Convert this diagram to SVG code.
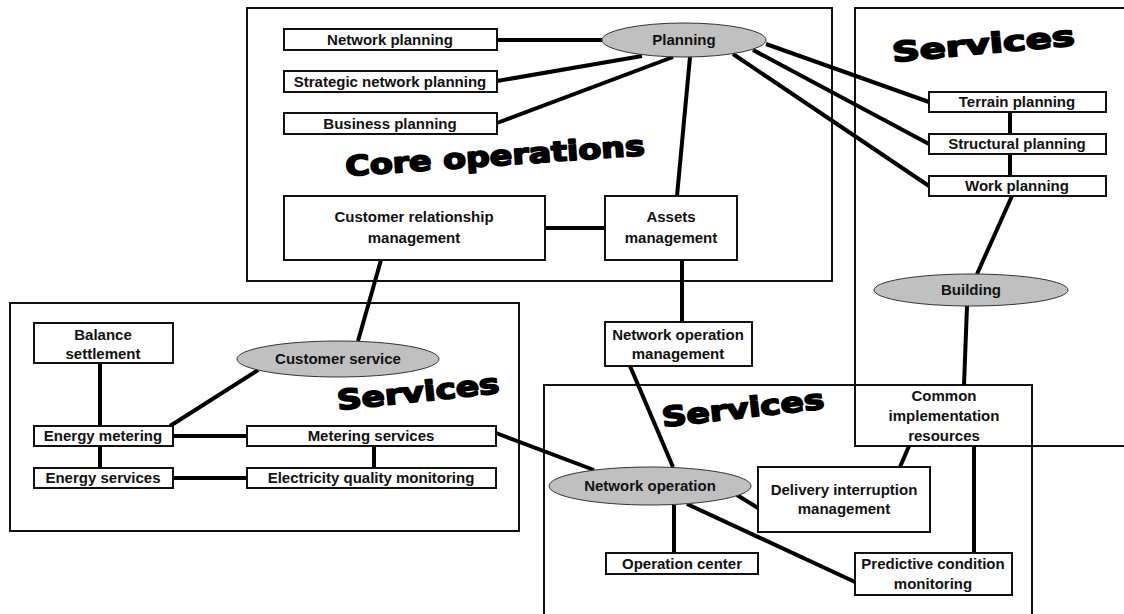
<svg xmlns="http://www.w3.org/2000/svg" width="1124" height="614" viewBox="0 0 1124 614">
  <style>
    .region { fill: none; stroke: #111; stroke-width: 2; }
    .box { fill: #fff; stroke: #111; stroke-width: 2; }
    .oval { fill: #c0c0c0; stroke: #333; stroke-width: 1; }
    .lbl { font-family: "Liberation Sans", Arial, sans-serif; font-weight: bold; font-size: 15px; text-anchor: middle; fill: #111; }
    .title { font-family: "DejaVu Sans", "Liberation Sans", sans-serif; font-weight: bold; font-size: 25px; fill: #000; stroke: #000; stroke-width: 1.6; stroke-linejoin: round; }
    .link { stroke: #000; stroke-width: 4; fill: none; }
  </style>

  <rect width="1124" height="614" fill="#fff"/>

  <!-- functional areas -->
  <g id="areas">
    <rect class="region" x="247" y="8" width="585" height="273"/>
    <rect class="region" x="855" y="8" width="290" height="438"/>
    <rect class="region" x="10" y="303" width="509" height="228"/>
    <rect class="region" x="544" y="385" width="488" height="250"/>
  </g>

  <!-- area titles -->
  <g id="titles">
    <text class="title" transform="translate(346,176) rotate(-4) scale(1,1.1)" textLength="300" lengthAdjust="spacingAndGlyphs">Core operations</text>
    <text class="title" transform="translate(893,62) rotate(-5.3) scale(1,1.1)" textLength="183" lengthAdjust="spacingAndGlyphs">Services</text>
    <text class="title" transform="translate(338,410) rotate(-6) scale(1,1.1)" textLength="163" lengthAdjust="spacingAndGlyphs">Services</text>
    <text class="title" transform="translate(663,427) rotate(-6.5) scale(1,1.1)" textLength="163" lengthAdjust="spacingAndGlyphs">Services</text>
  </g>

  <!-- connectors -->
  <g id="connectors">
    <line class="link" x1="497" y1="40" x2="602" y2="40"/>
    <line class="link" x1="497" y1="81" x2="642" y2="56"/>
    <line class="link" x1="497" y1="123" x2="673" y2="57"/>
    <line class="link" x1="690" y1="57" x2="677" y2="196"/>
    <line class="link" x1="766" y1="44" x2="929" y2="102"/>
    <line class="link" x1="753" y1="50" x2="929" y2="144"/>
    <line class="link" x1="733" y1="54" x2="929" y2="186"/>
    <line class="link" x1="1010" y1="112" x2="1010" y2="134"/>
    <line class="link" x1="1010" y1="154" x2="1010" y2="176"/>
    <line class="link" x1="1012" y1="196" x2="977" y2="274"/>
    <line class="link" x1="967" y1="306" x2="964" y2="385"/>
    <line class="link" x1="909" y1="446" x2="900" y2="467"/>
    <line class="link" x1="974" y1="446" x2="974" y2="553"/>
    <line class="link" x1="545" y1="228" x2="605" y2="228"/>
    <line class="link" x1="682" y1="260" x2="682" y2="322"/>
    <line class="link" x1="381" y1="260" x2="358" y2="341"/>
    <line class="link" x1="630" y1="366" x2="673" y2="467"/>
    <line class="link" x1="100" y1="363" x2="100" y2="426"/>
    <line class="link" x1="100" y1="446" x2="100" y2="468"/>
    <line class="link" x1="173" y1="436" x2="247" y2="436"/>
    <line class="link" x1="173" y1="478" x2="247" y2="478"/>
    <line class="link" x1="374" y1="446" x2="374" y2="468"/>
    <line class="link" x1="170" y1="426" x2="258" y2="370"/>
    <line class="link" x1="496" y1="433" x2="594" y2="470"/>
    <line class="link" x1="674" y1="505" x2="674" y2="553"/>
    <line class="link" x1="737" y1="495" x2="758" y2="508"/>
    <line class="link" x1="687" y1="504" x2="855" y2="582"/>
  </g>

  <!-- core operations -->
  <g id="network-planning">
    <rect class="box" x="284" y="29" width="213" height="21"/>
    <text class="lbl" x="390" y="45">Network planning</text>
  </g>
  <g id="strategic-network-planning">
    <rect class="box" x="284" y="71" width="213" height="21"/>
    <text class="lbl" x="390" y="87">Strategic network planning</text>
  </g>
  <g id="business-planning">
    <rect class="box" x="284" y="113" width="213" height="21"/>
    <text class="lbl" x="390" y="129">Business planning</text>
  </g>
  <g id="planning">
    <ellipse class="oval" cx="684" cy="40" rx="82" ry="17"/>
    <text class="lbl" x="684" y="45">Planning</text>
  </g>
  <g id="customer-relationship-management">
    <rect class="box" x="284" y="196" width="261" height="64"/>
    <text class="lbl" x="414" y="222">Customer relationship</text>
    <text class="lbl" x="414" y="243">management</text>
  </g>
  <g id="assets-management">
    <rect class="box" x="605" y="196" width="132" height="64"/>
    <text class="lbl" x="671" y="222">Assets</text>
    <text class="lbl" x="671" y="243">management</text>
  </g>
  <g id="network-operation-management">
    <rect class="box" x="605" y="322" width="147" height="44"/>
    <text class="lbl" x="678" y="340">Network operation</text>
    <text class="lbl" x="678" y="359">management</text>
  </g>

  <!-- building services -->
  <g id="terrain-planning">
    <rect class="box" x="929" y="92" width="177" height="20"/>
    <text class="lbl" x="1017" y="107">Terrain planning</text>
  </g>
  <g id="structural-planning">
    <rect class="box" x="929" y="134" width="177" height="20"/>
    <text class="lbl" x="1017" y="149">Structural planning</text>
  </g>
  <g id="work-planning">
    <rect class="box" x="929" y="176" width="177" height="20"/>
    <text class="lbl" x="1017" y="191">Work planning</text>
  </g>
  <g id="building">
    <ellipse class="oval" cx="971" cy="290" rx="97" ry="16"/>
    <text class="lbl" x="971" y="295">Building</text>
  </g>
  <g id="common-implementation-resources">
    <text class="lbl" x="944" y="401">Common</text>
    <text class="lbl" x="944" y="421">implementation</text>
    <text class="lbl" x="944" y="441">resources</text>
  </g>

  <!-- customer services -->
  <g id="balance-settlement">
    <rect class="box" x="34" y="323" width="139" height="40"/>
    <text class="lbl" x="103" y="340">Balance</text>
    <text class="lbl" x="103" y="359">settlement</text>
  </g>
  <g id="customer-service">
    <ellipse class="oval" cx="338" cy="359" rx="101" ry="18"/>
    <text class="lbl" x="338" y="364">Customer service</text>
  </g>
  <g id="energy-metering">
    <rect class="box" x="34" y="426" width="139" height="20"/>
    <text class="lbl" x="103" y="441">Energy metering</text>
  </g>
  <g id="metering-services">
    <rect class="box" x="247" y="426" width="249" height="20"/>
    <text class="lbl" x="371" y="441">Metering services</text>
  </g>
  <g id="energy-services">
    <rect class="box" x="34" y="468" width="139" height="20"/>
    <text class="lbl" x="103" y="483">Energy services</text>
  </g>
  <g id="electricity-quality-monitoring">
    <rect class="box" x="247" y="468" width="249" height="20"/>
    <text class="lbl" x="371" y="483">Electricity quality monitoring</text>
  </g>

  <!-- network services -->
  <g id="network-operation">
    <ellipse class="oval" cx="650" cy="486" rx="101" ry="19"/>
    <text class="lbl" x="650" y="491">Network operation</text>
  </g>
  <g id="delivery-interruption-management">
    <rect class="box" x="758" y="467" width="172" height="65"/>
    <text class="lbl" x="844" y="495">Delivery interruption</text>
    <text class="lbl" x="844" y="514">management</text>
  </g>
  <g id="operation-center">
    <rect class="box" x="606" y="553" width="152" height="21"/>
    <text class="lbl" x="682" y="569">Operation center</text>
  </g>
  <g id="predictive-condition-monitoring">
    <rect class="box" x="855" y="553" width="157" height="42"/>
    <text class="lbl" x="933" y="569">Predictive condition</text>
    <text class="lbl" x="933" y="589">monitoring</text>
  </g>
</svg>
